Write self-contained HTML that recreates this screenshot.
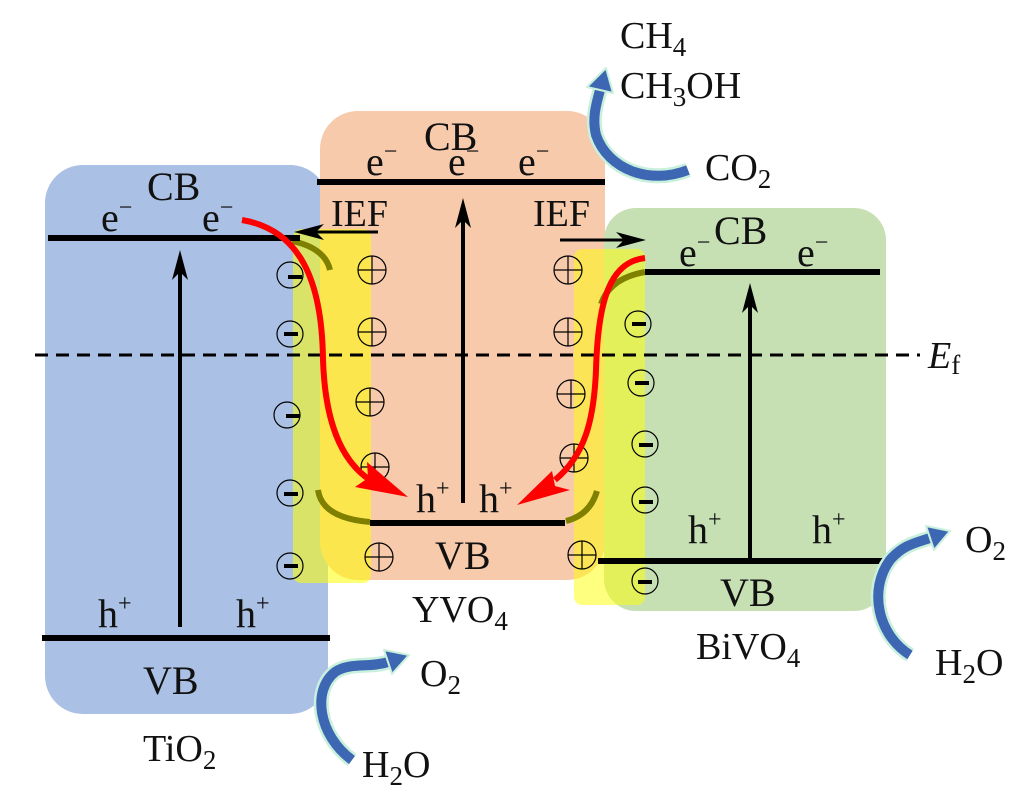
<!DOCTYPE html>
<html><head><meta charset="utf-8"><style>
html,body{margin:0;padding:0;background:#fff}
svg{display:block}
text{font-family:"Liberation Serif",serif;fill:#111}
</style></head><body>
<svg width="1036" height="803" viewBox="0 0 1036 803" xmlns="http://www.w3.org/2000/svg">
<!-- boxes -->
<rect x="45" y="165" width="283" height="549" rx="38" fill="#aac0e4"/>
<rect x="320" y="111" width="285" height="469" rx="38" fill="#f7caac"/>
<rect x="604" y="208" width="282" height="403" rx="32" fill="#c6e0b4"/>
<!-- yellow strips -->
<rect x="293" y="229" width="78" height="354" rx="8" fill="#ffff00" opacity="0.55"/>
<rect x="574" y="249" width="71" height="356" rx="8" fill="#ffff00" opacity="0.5"/>
<!-- olive arcs -->
<g fill="none" stroke="#808000" stroke-width="6">
<path d="M292 241 Q325 248 330 270"/>
<path d="M318 490 Q322 518 370 522"/>
<path d="M601 304 Q610 278 645 272"/>
<path d="M566 521 Q590 515 597 491"/>
</g>
<!-- band lines -->
<g stroke="#000" stroke-width="6">
<line x1="48" y1="238" x2="300" y2="238"/>
<line x1="42" y1="638" x2="330" y2="638"/>
<line x1="317" y1="182" x2="605" y2="182"/>
<line x1="370" y1="523" x2="565" y2="523"/>
<line x1="645" y1="272" x2="880" y2="272"/>
<line x1="598" y1="561" x2="885" y2="561"/>
</g>
<line x1="35" y1="355" x2="920" y2="355" stroke="#000" stroke-width="3" stroke-dasharray="13,8"/>
<!-- vertical arrows -->
<g stroke="#000" stroke-width="4">
<line x1="180" y1="627" x2="180" y2="265"/>
<line x1="463" y1="503" x2="463" y2="212"/>
<line x1="750" y1="558" x2="750" y2="297"/>
<line x1="378" y1="232" x2="308" y2="232" stroke-width="3"/>
<line x1="560" y1="240" x2="632" y2="240" stroke-width="3"/>
</g>
<g fill="#000">
<path d="M180 250 L172 280 L180 272 L188 280Z"/>
<path d="M463 198 L455 228 L463 220 L471 228Z"/>
<path d="M750 283 L742 313 L750 305 L758 313Z"/>
<path d="M294 232 L324 224 L316 232 L324 240Z"/>
<path d="M646 240 L616 232 L624 240 L616 248Z"/>
</g>
<!-- minus circles -->
<g fill="none" stroke="#000" stroke-width="1.2">
<circle cx="290" cy="275" r="13"/><circle cx="290" cy="334" r="13"/><circle cx="287" cy="415" r="13"/><circle cx="290" cy="493" r="13"/><circle cx="290" cy="566" r="13"/>
<circle cx="638" cy="324" r="13"/><circle cx="641" cy="383" r="13"/><circle cx="645" cy="444" r="13"/><circle cx="645" cy="500" r="13"/><circle cx="645" cy="581" r="13"/>
</g>
<g stroke="#000" stroke-width="4">
<line x1="288" y1="277" x2="302" y2="277"/><line x1="284" y1="334" x2="298" y2="334"/><line x1="286" y1="416" x2="300" y2="416"/><line x1="284" y1="494" x2="298" y2="494"/><line x1="284" y1="566" x2="298" y2="566"/>
<line x1="632" y1="324" x2="646" y2="324"/><line x1="635" y1="383" x2="649" y2="383"/><line x1="639" y1="445" x2="653" y2="445"/><line x1="639" y1="502" x2="653" y2="502"/><line x1="638" y1="582" x2="652" y2="582"/>
</g>
<!-- plus circles -->
<g fill="none" stroke="#000" stroke-width="1.2">
<g transform="translate(372,270)"><circle r="14"/><path d="M-14 0H14M0 -14V14"/></g>
<g transform="translate(372,332)"><circle r="14"/><path d="M-14 0H14M0 -14V14"/></g>
<g transform="translate(370,402)"><circle r="14"/><path d="M-14 0H14M0 -14V14"/></g>
<g transform="translate(375,467)"><circle r="14"/><path d="M-14 0H14M0 -14V14"/></g>
<g transform="translate(379,557)"><circle r="14"/><path d="M-14 0H14M0 -14V14"/></g>
<g transform="translate(568,270)"><circle r="14"/><path d="M-14 0H14M0 -14V14"/></g>
<g transform="translate(568,332)"><circle r="14"/><path d="M-14 0H14M0 -14V14"/></g>
<g transform="translate(571,394)"><circle r="14"/><path d="M-14 0H14M0 -14V14"/></g>
<g transform="translate(574,458)"><circle r="14"/><path d="M-14 0H14M0 -14V14"/></g>
<g transform="translate(582,555)"><circle r="14"/><path d="M-14 0H14M0 -14V14"/></g>
</g>
<!-- red arrows -->
<g fill="none" stroke="#ff0000" stroke-width="6">
<path d="M242 220 C300 230 322 280 323 360 C325 420 340 460 370 480"/>
<path d="M645 258 C610 262 598 300 596 370 C594 420 585 455 555 480"/>
</g>
<path fill="#ff0000" d="M408 497 L355 487 L368 478 L367 462Z"/>
<path fill="#ff0000" d="M517 505 L552 471 L555 486 L570 490Z"/>
<!-- blue curved arrows -->
<g fill="none" stroke-linecap="butt">
<path d="M352 760 C318 735 312 690 335 672 C350 662 370 668 388 662" stroke="#c8f0dc" stroke-width="15"/>
<path d="M352 760 C318 735 312 690 335 672 C350 662 370 668 388 662" stroke="#3d67b3" stroke-width="10"/>
<path d="M910 655 C878 635 868 590 890 560 C903 545 915 543 930 538" stroke="#c8f0dc" stroke-width="15"/>
<path d="M910 655 C878 635 868 590 890 560 C903 545 915 543 930 538" stroke="#3d67b3" stroke-width="10"/>
<path d="M688 170 C650 185 608 170 596 135 C592 118 596 105 600 90" stroke="#c8f0dc" stroke-width="15"/>
<path d="M688 170 C650 185 608 170 596 135 C592 118 596 105 600 90" stroke="#3d67b3" stroke-width="10"/>
</g>
<g fill="#3d67b3" stroke="#c8f0dc" stroke-width="2" stroke-linejoin="round">
<path d="M409 655 L384 650 L392 674Z"/>
<path d="M950 531 L926 526 L934 550Z"/>
<path d="M606 68 L587 87 L613 93Z"/>
</g>
<!-- labels -->
<g font-size="40">
<text x="147" y="200">CB</text>
<text x="143" y="694">VB</text>
<text x="424" y="150">CB</text>
<text x="435" y="569">VB</text>
<text x="714" y="244">CB</text>
<text x="720" y="606">VB</text>
</g>
<g font-size="38">
<text x="331" y="226">IEF</text>
<text x="533" y="226">IEF</text>
<text x="143" y="761">TiO<tspan font-size="27" dy="8">2</tspan></text>
<text x="412" y="622">YVO<tspan font-size="27" dy="8">4</tspan></text>
<text x="696" y="659">BiVO<tspan font-size="27" dy="8">4</tspan></text>
<text x="928" y="368" font-style="italic">E<tspan font-size="27" dy="6" font-style="normal">f</tspan></text>
<text x="620" y="48">CH<tspan font-size="27" dy="8">4</tspan></text>
<text x="620" y="98">CH<tspan font-size="27" dy="8">3</tspan><tspan dy="-8">OH</tspan></text>
<text x="705" y="180">CO<tspan font-size="27" dy="8">2</tspan></text>
<text x="420" y="686">O<tspan font-size="27" dy="8">2</tspan></text>
<text x="362" y="777">H<tspan font-size="27" dy="8">2</tspan><tspan dy="-8">O</tspan></text>
<text x="965" y="552">O<tspan font-size="27" dy="8">2</tspan></text>
<text x="935" y="675">H<tspan font-size="27" dy="8">2</tspan><tspan dy="-8">O</tspan></text>
</g>
<g font-size="40">
<text x="101" y="231">e<tspan font-size="24" dy="-16">−</tspan></text>
<text x="202" y="231">e<tspan font-size="24" dy="-16">−</tspan></text>
<text x="366" y="175">e<tspan font-size="24" dy="-16">−</tspan></text>
<text x="448" y="175">e<tspan font-size="24" dy="-16">−</tspan></text>
<text x="518" y="175">e<tspan font-size="24" dy="-16">−</tspan></text>
<text x="679" y="266">e<tspan font-size="24" dy="-16">−</tspan></text>
<text x="797" y="266">e<tspan font-size="24" dy="-16">−</tspan></text>
<text x="98" y="627">h<tspan font-size="24" dy="-16">+</tspan></text>
<text x="236" y="627">h<tspan font-size="24" dy="-16">+</tspan></text>
<text x="416" y="512">h<tspan font-size="24" dy="-16">+</tspan></text>
<text x="479" y="512">h<tspan font-size="24" dy="-16">+</tspan></text>
<text x="688" y="543">h<tspan font-size="24" dy="-16">+</tspan></text>
<text x="812" y="543">h<tspan font-size="24" dy="-16">+</tspan></text>
</g>
</svg>
</body></html>
